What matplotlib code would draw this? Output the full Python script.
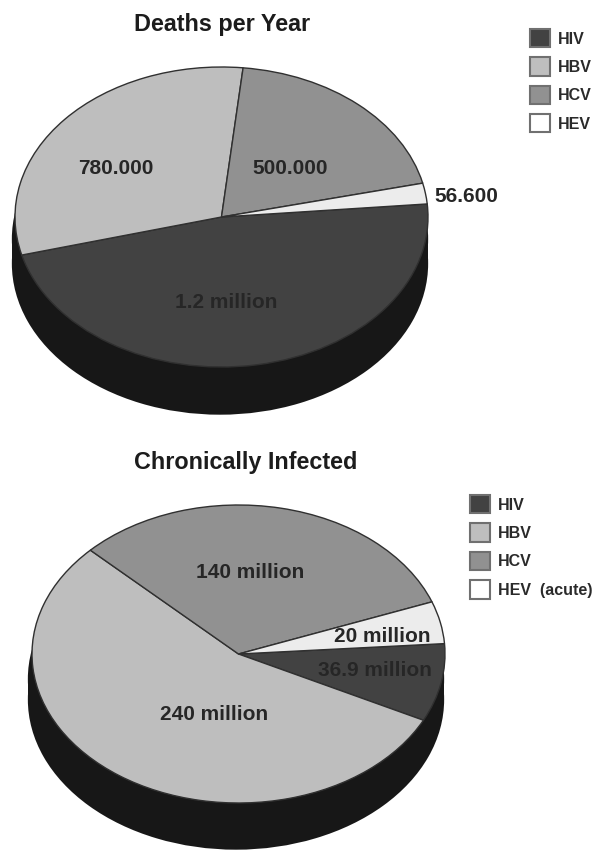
import matplotlib
matplotlib.use("Agg")
import matplotlib.pyplot as plt
from matplotlib.patches import Rectangle

W, H = 596, 850
plt.rcParams['font.family'] = ['Liberation Sans', 'DejaVu Sans']
plt.rcParams['font.weight'] = 'bold'

diseases = ["HIV", "HBV", "HCV", "HEV"]
diseases_chronic = ["HIV", "HBV", "HCV", "HEV  (acute)"]
deaths = [1200000, 780000, 500000, 56600]
deaths_labels = ["1.2 million", "780.000", "500.000", "56.600"]
chronic = [36.9, 240, 140, 20]
chronic_labels = ["36.9 million", "240 million", "140 million", "20 million"]
colors = ["#424242", "#bebebe", "#919191", "#ececec"]
SIDE = "#171717"
TEXT = "#262626"

fig = plt.figure(figsize=(W / 100, H / 100), dpi=100, facecolor="white")


def make_pie(box, depth, side_top, side_dx, side_grow, values, names, startangle, title, title_xy, legend_xy):
    left, top, right, bottom = box
    ax = fig.add_axes([left / W, 1 - bottom / H, (right - left) / W, (bottom - top) / H])
    rx = (right - left) / 2
    ry = (bottom - top) / 2
    d = depth / ry
    d0 = side_top / ry
    dx = side_dx / rx
    r = 1 + side_grow
    # extruded side of the disc: two dark ellipses joined by a band
    ax.pie([1], colors=[SIDE], center=(dx, -d), radius=r, wedgeprops=dict(linewidth=0))
    ax.pie([1], colors=[SIDE], center=(dx, -d0), radius=r, wedgeprops=dict(linewidth=0))
    ax.add_patch(Rectangle((dx - r, -d), 2 * r, d - d0, facecolor=SIDE, edgecolor="none"))
    wedges, _ = ax.pie(values, colors=colors, radius=1, startangle=startangle,
                       counterclock=False,
                       wedgeprops=dict(linewidth=1.0, edgecolor="#303030"))
    ax.set_aspect("auto")
    ax.set_xlim(-1, 1)
    ax.set_ylim(-1, 1)
    for c in ax.patches:
        c.set_clip_on(False)
    fig.text(title_xy[0] / W, 1 - title_xy[1] / H, title, ha="center", va="center",
             fontsize=16.8, color="#1c1c1c")
    leg = fig.legend(handles=wedges, labels=names, loc="upper left",
                     bbox_to_anchor=(legend_xy[0] / W, 1 - legend_xy[1] / H),
                     frameon=False, fontsize=11.5, handlelength=1.25, handleheight=1.4,
                     labelspacing=0.62, handletextpad=0.5, borderpad=0, borderaxespad=0,
                     labelcolor="#2a2a2a")
    for h, col in zip(leg.legend_handles, colors):
        h.set_edgecolor("#707070")
        h.set_linewidth(1.5)
    leg.legend_handles[-1].set_facecolor("white")
    return ax


make_pie((15, 67, 428, 367), 46.5, 22, -1.5, 0.008, deaths, diseases, 5,
         "Deaths per Year", (222, 25), (530, 29))
make_pie((32, 505, 445, 803), 45.5, 25, -2.5, 0.008, chronic, diseases_chronic, 4,
         "Chronically Infected", (245.5, 462), (470, 495))


def label(x, y, s, size=15):
    fig.text(x / W, 1 - y / H, s, ha="center", va="center", fontsize=size, color=TEXT)


label(226, 302, deaths_labels[0])
label(116, 169, deaths_labels[1])
label(290, 169, deaths_labels[2])
label(466, 197, deaths_labels[3])
label(375, 670, chronic_labels[0])
label(214, 715, chronic_labels[1])
label(250, 573, chronic_labels[2])
label(382, 637, chronic_labels[3])

fig.savefig("out.png", dpi=100)
